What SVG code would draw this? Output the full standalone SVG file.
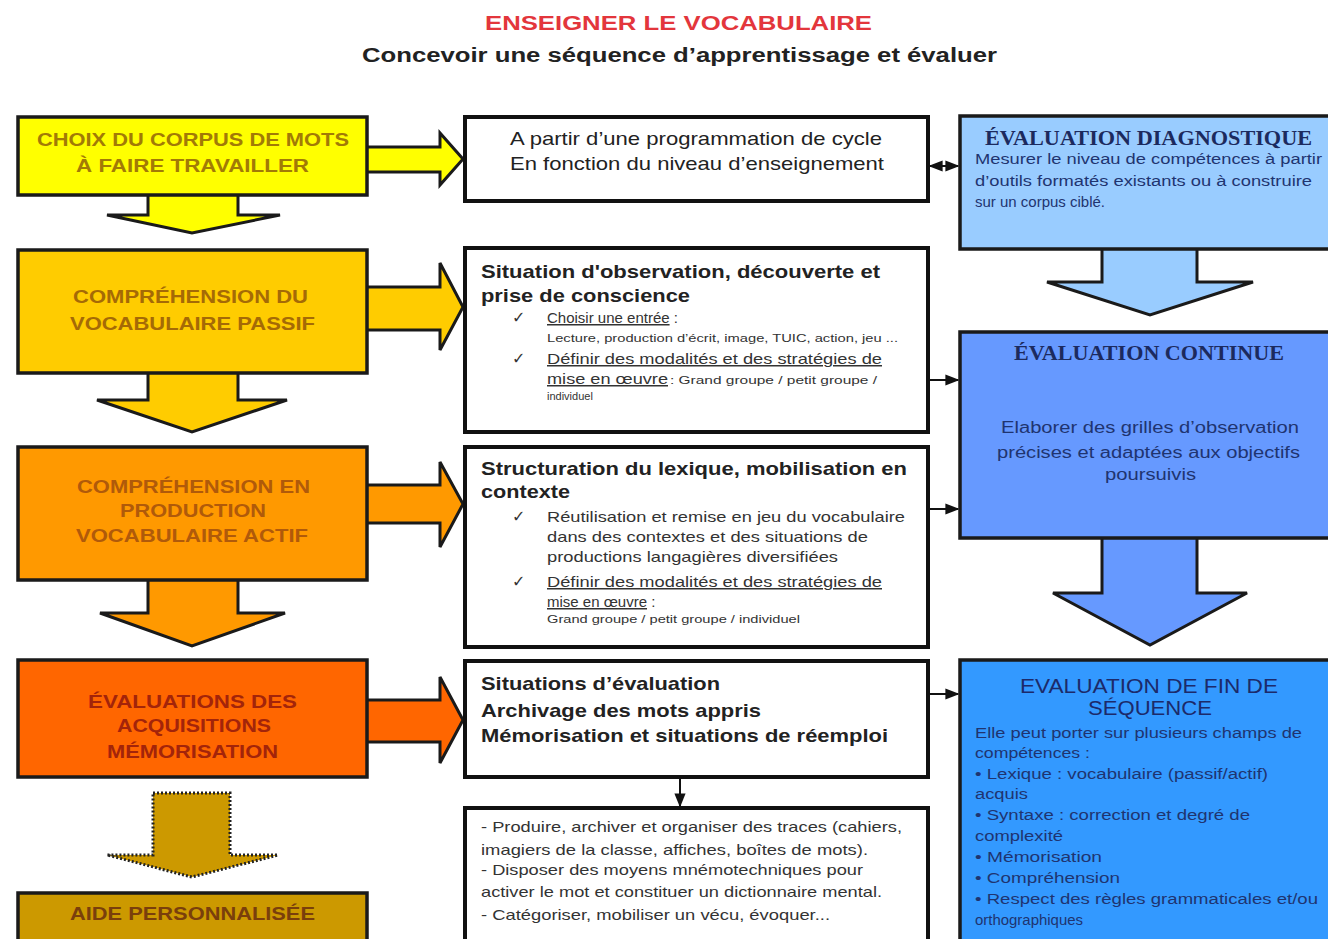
<svg xmlns="http://www.w3.org/2000/svg" width="1328" height="939" viewBox="0 0 1328 939">
<defs>
<style>
.bg{fill:#ffffff}
.ttl{font-family:"Liberation Sans",Arial,sans-serif;font-weight:bold;font-size:20px}
.lbl{font-family:"Liberation Sans",Arial,sans-serif;font-weight:bold;font-size:19px}
.box{stroke:#1a1a1a;stroke-width:3.5}
.arr{stroke:#1a1a1a;stroke-width:3;stroke-linejoin:miter}
.mbox{fill:#ffffff;stroke:#111111;stroke-width:4}
.reg{font-family:"Liberation Sans",Arial,sans-serif;font-size:19px;fill:#222}
.hd{font-family:"Liberation Sans",Arial,sans-serif;font-weight:bold;font-size:19px;fill:#222}
.sm{font-family:"Liberation Sans",Arial,sans-serif;font-size:15px;fill:#333}
.xs{font-family:"Liberation Sans",Arial,sans-serif;font-size:11px;fill:#333}
.chk{font-family:"DejaVu Sans",sans-serif;font-size:16px;fill:#333}
.ul{text-decoration:underline}
.rt{font-family:"Liberation Serif","Times New Roman",serif;font-weight:bold;font-size:20px;fill:#1c2a5e}
.rb{font-family:"Liberation Sans",Arial,sans-serif;font-size:14px;fill:#1f3470}
.rm{font-family:"Liberation Sans",Arial,sans-serif;font-size:16px;fill:#1f3470}
.rs{font-family:"Liberation Sans",Arial,sans-serif;font-size:20px;fill:#1c2a6a}
.con{stroke:#111;stroke-width:2;fill:none}
</style>
<marker id="ah" viewBox="0 0 10 10" refX="9" refY="5" markerWidth="7" markerHeight="7" orient="auto-start-reverse">
<path d="M0,1 L10,5 L0,9 z" fill="#111"/>
</marker>
</defs>
<rect class="bg" x="0" y="0" width="1328" height="939"/>

<g id="title">
<text class="ttl" x="485" y="30" fill="#e3363c" textLength="387" lengthAdjust="spacingAndGlyphs">ENSEIGNER LE VOCABULAIRE</text>
<text class="ttl" x="362" y="62" fill="#222" textLength="635" lengthAdjust="spacingAndGlyphs">Concevoir une séquence d’apprentissage et évaluer</text>
</g>

<!-- left column block arrows -->
<g id="left-arrows">
<polygon class="arr" fill="#ffff00" points="148,193 238,193 238,215 280,215 192,233 107,215 148,215"/>
<polygon class="arr" fill="#ffcc00" points="148,371 238,371 238,400 287,400 192,432 97,400 148,400"/>
<polygon class="arr" fill="#ff9900" points="148,578 238,578 238,613 285,613 192,646 100,613 148,613"/>
<polygon fill="#cc9900" stroke="#222" stroke-width="3" stroke-dasharray="2,2" points="153,793 230,793 230,855 278,855 192,877 107,855 153,855"/>
<polygon class="arr" fill="#ffff00" points="365,147 440,147 440,133 463,159 440,185 440,172 365,172"/>
<polygon class="arr" fill="#ffcc00" points="365,287 440,287 440,263 463,307 440,350 440,330 365,330"/>
<polygon class="arr" fill="#ff9900" points="365,485 440,485 440,462 463,504 440,547 440,523 365,523"/>
<polygon class="arr" fill="#ff6600" points="365,700 440,700 440,677 463,720 440,763 440,742 365,742"/>
</g>

<g id="n-choix">
<rect class="box" x="18" y="117" width="349" height="78" fill="#ffff00"/>
<text class="lbl" x="37" y="146" fill="#a27a06" textLength="312" lengthAdjust="spacingAndGlyphs">CHOIX DU CORPUS DE MOTS</text>
<text class="lbl" x="76" y="172" fill="#a27a06" textLength="233" lengthAdjust="spacingAndGlyphs">À FAIRE TRAVAILLER</text>
</g>
<g id="n-passif">
<rect class="box" x="18" y="250" width="349" height="123" fill="#ffcc00"/>
<text class="lbl" x="73" y="303" fill="#a56a06" textLength="235" lengthAdjust="spacingAndGlyphs">COMPRÉHENSION DU</text>
<text class="lbl" x="70" y="330" fill="#a56a06" textLength="245" lengthAdjust="spacingAndGlyphs">VOCABULAIRE PASSIF</text>
</g>
<g id="n-actif">
<rect class="box" x="18" y="447" width="349" height="133" fill="#ff9900"/>
<text class="lbl" x="77" y="493" fill="#b05a0a" textLength="233" lengthAdjust="spacingAndGlyphs">COMPRÉHENSION EN</text>
<text class="lbl" x="120" y="517" fill="#b05a0a" textLength="146" lengthAdjust="spacingAndGlyphs">PRODUCTION</text>
<text class="lbl" x="76" y="542" fill="#b05a0a" textLength="232" lengthAdjust="spacingAndGlyphs">VOCABULAIRE ACTIF</text>
</g>
<g id="n-evaluations">
<rect class="box" x="18" y="660" width="349" height="117" fill="#ff6600"/>
<text class="lbl" x="88" y="708" fill="#a3240a" textLength="209" lengthAdjust="spacingAndGlyphs">ÉVALUATIONS DES</text>
<text class="lbl" x="117" y="732" fill="#a3240a" textLength="154" lengthAdjust="spacingAndGlyphs">ACQUISITIONS</text>
<text class="lbl" x="107" y="758" fill="#a3240a" textLength="171" lengthAdjust="spacingAndGlyphs">MÉMORISATION</text>
</g>
<g id="n-aide">
<rect class="box" x="18" y="893" width="349" height="60" fill="#cc9900"/>
<text class="lbl" x="70" y="920" fill="#7a3f0c" textLength="245" lengthAdjust="spacingAndGlyphs">AIDE PERSONNALISÉE</text>
</g>

<!-- middle column -->
<g id="n-programmation">
<rect class="mbox" x="465" y="117" width="463" height="84"/>
<text class="reg" x="510" y="145" textLength="372" lengthAdjust="spacingAndGlyphs">A partir d’une programmation de cycle</text>
<text class="reg" x="510" y="170" textLength="374" lengthAdjust="spacingAndGlyphs">En fonction du niveau d’enseignement</text>
</g>
<g id="n-observation">
<rect class="mbox" x="465" y="248" width="463" height="184"/>
<text class="hd" x="481" y="278" textLength="399" lengthAdjust="spacingAndGlyphs">Situation d'observation, découverte et</text>
<text class="hd" x="481" y="302" textLength="209" lengthAdjust="spacingAndGlyphs">prise de conscience</text>
<text class="chk" x="512" y="323">✓</text>
<text class="sm" x="547" y="323"><tspan class="ul">Choisir une entrée</tspan> :</text>
<text class="xs" x="547" y="342" textLength="351" lengthAdjust="spacingAndGlyphs">Lecture, production d’écrit, image, TUIC, action, jeu ...</text>
<text class="chk" x="512" y="364">✓</text>
<text class="sm ul" x="547" y="364" textLength="335" lengthAdjust="spacingAndGlyphs">Définir des modalités et des stratégies de</text>
<text class="sm ul" x="547" y="384" textLength="121" lengthAdjust="spacingAndGlyphs">mise en œuvre</text>
<text class="xs" x="670" y="384" textLength="207" lengthAdjust="spacingAndGlyphs">: Grand groupe / petit groupe /</text>
<text class="xs" x="547" y="400">individuel</text>
</g>
<g id="n-structuration">
<rect class="mbox" x="465" y="447" width="463" height="200"/>
<text class="hd" x="481" y="475" textLength="426" lengthAdjust="spacingAndGlyphs">Structuration du lexique, mobilisation en</text>
<text class="hd" x="481" y="498" textLength="89" lengthAdjust="spacingAndGlyphs">contexte</text>
<text class="chk" x="512" y="522">✓</text>
<text class="sm" x="547" y="522" textLength="358" lengthAdjust="spacingAndGlyphs">Réutilisation et remise en jeu du vocabulaire</text>
<text class="sm" x="547" y="542" textLength="321" lengthAdjust="spacingAndGlyphs">dans des contextes et des situations de</text>
<text class="sm" x="547" y="562" textLength="291" lengthAdjust="spacingAndGlyphs">productions langagières diversifiées</text>
<text class="chk" x="512" y="587">✓</text>
<text class="sm ul" x="547" y="587" textLength="335" lengthAdjust="spacingAndGlyphs">Définir des modalités et des stratégies de</text>
<text class="sm" x="547" y="607"><tspan class="ul">mise en œuvre</tspan> :</text>
<text class="xs" x="547" y="623" textLength="253" lengthAdjust="spacingAndGlyphs">Grand groupe / petit groupe / individuel</text>
</g>
<g id="n-situations">
<rect class="mbox" x="465" y="661" width="463" height="116"/>
<text class="hd" x="481" y="690" textLength="239" lengthAdjust="spacingAndGlyphs">Situations d’évaluation</text>
<text class="hd" x="481" y="717" textLength="280" lengthAdjust="spacingAndGlyphs">Archivage des mots appris</text>
<text class="hd" x="481" y="742" textLength="407" lengthAdjust="spacingAndGlyphs">Mémorisation et situations de réemploi</text>
</g>
<g id="n-traces">
<rect class="mbox" x="465" y="808" width="463" height="150"/>
<text class="sm" x="481" y="832" textLength="421" lengthAdjust="spacingAndGlyphs">- Produire, archiver et organiser des traces (cahiers,</text>
<text class="sm" x="481" y="855" textLength="387" lengthAdjust="spacingAndGlyphs">imagiers de la classe, affiches, boîtes de mots).</text>
<text class="sm" x="481" y="875" textLength="382" lengthAdjust="spacingAndGlyphs">- Disposer des moyens mnémotechniques pour</text>
<text class="sm" x="481" y="897" textLength="401" lengthAdjust="spacingAndGlyphs">activer le mot et constituer un dictionnaire mental.</text>
<text class="sm" x="481" y="920" textLength="349" lengthAdjust="spacingAndGlyphs">- Catégoriser, mobiliser un vécu, évoquer...</text>
</g>

<!-- right column block arrows -->
<g id="right-arrows">
<polygon class="arr" fill="#99ccff" points="1102,247 1197,247 1197,282 1253,282 1150,315 1047,282 1102,282"/>
<polygon class="arr" fill="#6699ff" points="1102,536 1197,536 1197,593 1247,593 1150,645 1053,593 1102,593"/>
</g>

<g id="n-diagnostique">
<rect class="box" x="960" y="116" width="380" height="133" fill="#99ccff"/>
<text class="rt" x="985" y="145" textLength="327" lengthAdjust="spacingAndGlyphs">ÉVALUATION DIAGNOSTIQUE</text>
<text class="rb" x="975" y="164" textLength="347" lengthAdjust="spacingAndGlyphs">Mesurer le niveau de compétences à partir</text>
<text class="rb" x="975" y="186" textLength="337" lengthAdjust="spacingAndGlyphs">d’outils formatés existants ou à construire</text>
<text class="rb" x="975" y="207" textLength="130" lengthAdjust="spacingAndGlyphs">sur un corpus ciblé.</text>
</g>
<g id="n-continue">
<rect class="box" x="960" y="332" width="380" height="206" fill="#6699ff"/>
<text class="rt" x="1014" y="360" textLength="270" lengthAdjust="spacingAndGlyphs">ÉVALUATION CONTINUE</text>
<text class="rm" x="1001" y="433" textLength="298" lengthAdjust="spacingAndGlyphs">Elaborer des grilles d’observation</text>
<text class="rm" x="997" y="458" textLength="303" lengthAdjust="spacingAndGlyphs">précises et adaptées aux objectifs</text>
<text class="rm" x="1105" y="480" textLength="91" lengthAdjust="spacingAndGlyphs">poursuivis</text>
</g>
<g id="n-fin">
<rect class="box" x="960" y="660" width="380" height="300" fill="#3399ff"/>
<text class="rs" x="1020" y="693" textLength="258" lengthAdjust="spacingAndGlyphs">EVALUATION DE FIN DE</text>
<text class="rs" x="1088" y="715" textLength="124" lengthAdjust="spacingAndGlyphs">SÉQUENCE</text>
<text class="rb" x="975" y="738" textLength="327" lengthAdjust="spacingAndGlyphs">Elle peut porter sur plusieurs champs de</text>
<text class="rb" x="975" y="758" textLength="115" lengthAdjust="spacingAndGlyphs">compétences :</text>
<text class="rb" x="975" y="779" textLength="293" lengthAdjust="spacingAndGlyphs">• Lexique : vocabulaire (passif/actif)</text>
<text class="rb" x="975" y="799" textLength="53" lengthAdjust="spacingAndGlyphs">acquis</text>
<text class="rb" x="975" y="820" textLength="275" lengthAdjust="spacingAndGlyphs">• Syntaxe : correction et degré de</text>
<text class="rb" x="975" y="841" textLength="88" lengthAdjust="spacingAndGlyphs">complexité</text>
<text class="rb" x="975" y="862" textLength="127" lengthAdjust="spacingAndGlyphs">• Mémorisation</text>
<text class="rb" x="975" y="883" textLength="145" lengthAdjust="spacingAndGlyphs">• Compréhension</text>
<text class="rb" x="975" y="904" textLength="343" lengthAdjust="spacingAndGlyphs">• Respect des règles grammaticales et/ou</text>
<text class="rb" x="975" y="925" textLength="108" lengthAdjust="spacingAndGlyphs">orthographiques</text>
</g>

<g id="connectors">
<line class="con" x1="930" y1="166" x2="958" y2="166" marker-start="url(#ah)" marker-end="url(#ah)"/>
<line class="con" x1="930" y1="380" x2="958" y2="380" marker-end="url(#ah)"/>
<line class="con" x1="930" y1="509" x2="958" y2="509" marker-end="url(#ah)"/>
<line class="con" x1="930" y1="694" x2="958" y2="694" marker-end="url(#ah)"/>
<line class="con" x1="680" y1="779" x2="680" y2="806" marker-end="url(#ah)"/>
</g>
</svg>
